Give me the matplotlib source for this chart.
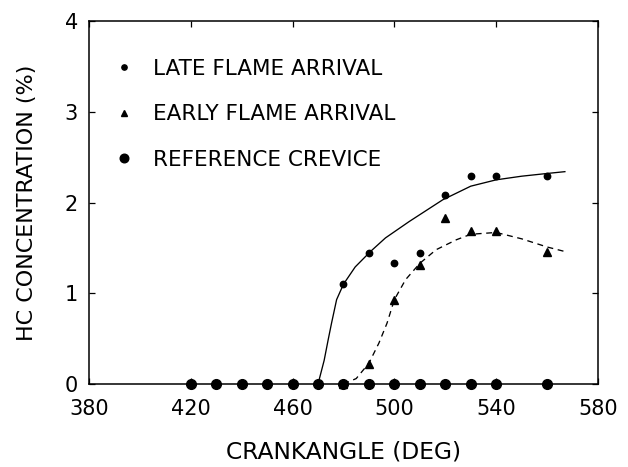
import matplotlib
matplotlib.use("Agg")
import matplotlib.pyplot as plt
from matplotlib.lines import Line2D

plt.rcParams['font.family'] = ['DejaVu Sans']

# Measured data
late_x = [480, 490, 500, 510, 520, 530, 540, 560]
late_y = [1.10, 1.44, 1.33, 1.44, 2.08, 2.29, 2.29, 2.29]

early_x = [480, 490, 500, 510, 520, 530, 540, 560]
early_y = [0.0, 0.22, 0.93, 1.31, 1.83, 1.69, 1.69, 1.46]

ref_x = [420, 430, 440, 450, 460, 470, 480, 490, 500, 510, 520, 530, 540, 560]
ref_y = [0, 0, 0, 0, 0, 0, 0, 0, 0, 0, 0, 0, 0, 0]

# Fitted curves
late_fit_x = [470, 472.4, 474, 475.3, 477.3, 480, 484.6, 490.6, 496.5, 505.8, 519, 530, 540, 550, 560, 567]
late_fit_y = [0.0, 0.26, 0.49, 0.67, 0.93, 1.10, 1.29, 1.46, 1.61, 1.79, 2.03, 2.18, 2.25, 2.29, 2.32, 2.34]

early_fit_x = [480, 485, 490, 493.9, 497.1, 500, 504.4, 510, 516.4, 524.4, 530, 540, 550, 560, 567]
early_fit_y = [0.0, 0.06, 0.23, 0.45, 0.67, 0.93, 1.15, 1.33, 1.48, 1.59, 1.65, 1.67, 1.60, 1.51, 1.46]

xticks = [380, 420, 460, 500, 540, 580]
yticks = [0, 1, 2, 3, 4]

labels = ['LATE FLAME ARRIVAL', 'EARLY FLAME ARRIVAL', 'REFERENCE CREVICE']

fig = plt.figure(figsize=(6.28, 4.67), dpi=100)
ax = fig.add_axes([0.1417, 0.1777, 0.8105, 0.7773])

ax.plot(late_fit_x, late_fit_y, color='black', lw=0.95)
ax.plot(early_fit_x, early_fit_y, color='black', lw=0.95, linestyle=(0, (4.5, 3.5)))

ax.plot(ref_x, ref_y, linestyle='none', marker='o', ms=7, color='black', clip_on=False, zorder=5)
ax.plot(late_x, late_y, linestyle='none', marker='o', ms=4.6, color='black', clip_on=False, zorder=6)
ax.plot(early_x, early_y, linestyle='none', marker='^', ms=5.8, color='black', clip_on=False, zorder=6)

ax.set_xlim(380, 580)
ax.set_ylim(0, 4)
ax.set_xticks(xticks)
ax.set_yticks(yticks)
ax.tick_params(axis='both', direction='in', length=4, width=0.9, top=True, right=True,
               labelsize=15)
ax.tick_params(axis='x', pad=11)
ax.tick_params(axis='y', pad=8)
for s in ax.spines.values():
    s.set_linewidth(1.1)

ax.set_xlabel('CRANKANGLE (DEG)', fontsize=16.8, labelpad=15)
ax.set_ylabel('HC CONCENTRATION (%)', fontsize=16, labelpad=20)

handles = [
    Line2D([], [], linestyle='none', marker='o', ms=3.8, color='black'),
    Line2D([], [], linestyle='none', marker='^', ms=4.8, color='black'),
    Line2D([], [], linestyle='none', marker='o', ms=6.2, color='black'),
]
ax.legend(handles, labels, loc='upper left', bbox_to_anchor=(0.047, 0.8953),
          frameon=False, fontsize=15.5, handlelength=1.0, handletextpad=0.84,
          labelspacing=1.18, borderaxespad=0, borderpad=0)

fig.savefig('out.png', dpi=100)
